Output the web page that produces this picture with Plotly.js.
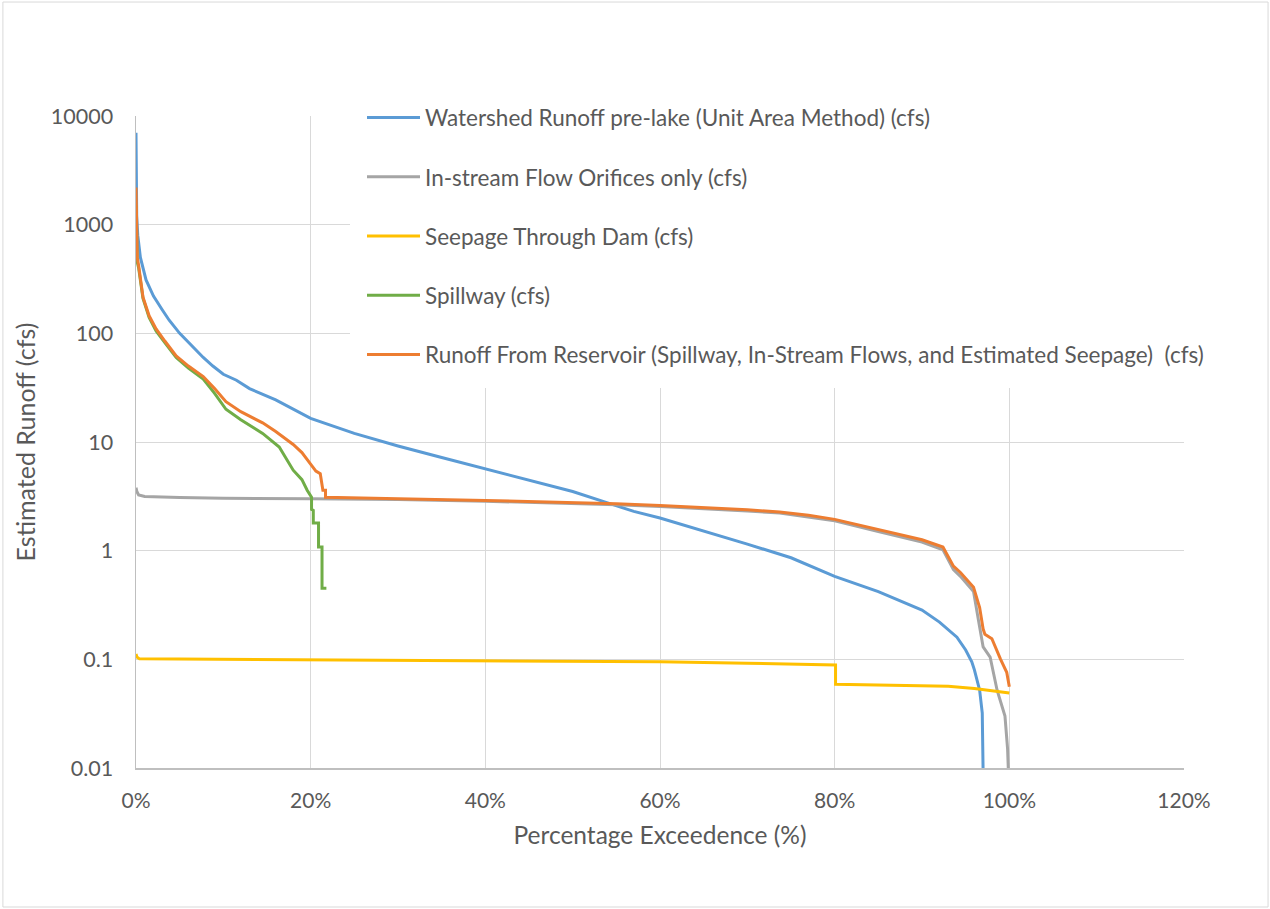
<!DOCTYPE html>
<html>
<head>
<meta charset="utf-8">
<script src="https://cdn.plot.ly/plotly-3.0.1.min.js"></script>
<style>
  html, body { margin: 0; padding: 0; background: #ffffff; }
  #chart { width: 1270px; height: 909px; }
</style>
</head>
<body>
<div id="chart"></div>
<script>
// Flow-duration curves: percentage of time a flow is exceeded (%) vs. flow (cfs)

const seriesNames = [
  'Watershed Runoff pre-lake (Unit Area Method) (cfs)',
  'In-stream Flow Orifices only (cfs)',
  'Seepage Through Dam (cfs)',
  'Spillway (cfs)',
  'Runoff From Reservoir (Spillway, In-Stream Flows, and Estimated Seepage)  (cfs)'
];
const seriesColors = ['#5b9bd5', '#a5a5a5', '#ffc000', '#70ad47', '#ed7d31'];

// Watershed runoff before the lake
const watershedPct = [0, 0.03, 0.08, 0.2, 0.5, 1.15, 2, 3, 3.8, 5, 6.5, 7.7, 8.8, 10, 11.5, 13, 16, 20, 25, 30, 35, 41.7, 45, 50, 54, 57, 60, 63, 66, 70, 75, 80, 85, 88, 90, 92, 93, 94, 95, 95.7, 96, 96.6, 96.9, 97.0];
const watershedCfs = [7000, 3000, 1200, 800, 500, 310, 220, 165, 132, 100, 75, 60, 50, 42, 37, 31, 24.4, 16.5, 12, 9.2, 7.2, 5.2, 4.4, 3.5, 2.75, 2.3, 2.0, 1.7, 1.45, 1.15, 0.86, 0.58, 0.42, 0.33, 0.284, 0.22, 0.186, 0.16, 0.122, 0.095, 0.08, 0.052, 0.032, 0.009];

// In-stream flow orifices
const orificePct = [0, 0.1, 0.3, 1, 5, 10, 20, 30, 40, 50, 55, 60, 65, 70, 73.7, 77, 80, 85, 88, 90, 92.4, 93.6, 94.4, 95.9, 96.5, 97, 97.8, 98.6, 99.5, 99.8, 99.9];
const orificeCfs = [3.8, 3.5, 3.25, 3.15, 3.08, 3.03, 3.0, 2.95, 2.85, 2.72, 2.65, 2.55, 2.45, 2.32, 2.22, 2.05, 1.88, 1.5, 1.32, 1.2, 1.02, 0.67, 0.58, 0.42, 0.22, 0.13, 0.105, 0.052, 0.03, 0.015, 0.009];

// Seepage through the dam
const seepagePct = [0, 0.1, 0.4, 10, 20, 40, 60, 70, 80.1, 80.1, 90, 93, 96, 100];
const seepageCfs = [0.112, 0.105, 0.101, 0.1, 0.099, 0.0975, 0.095, 0.092, 0.0887, 0.059, 0.057, 0.0565, 0.054, 0.049];

// Spillway
const spillwayPct = [0, 0.05, 0.15, 0.3, 0.8, 1.5, 2.3, 3.3, 4.6, 6, 7.7, 9, 10.3, 12, 14.5, 16.4, 18, 19, 19.6, 20.1, 20.1, 20.3, 20.3, 20.9, 20.9, 21.3, 21.3, 21.8];
const spillwayCfs = [1500, 700, 450, 400, 210, 140, 105, 82, 60, 48, 38, 28, 20, 16, 12, 9, 5.5, 4.5, 3.6, 3.1, 2.4, 2.35, 1.8, 1.8, 1.08, 1.08, 0.45, 0.45];

// Total runoff from the reservoir
const reservoirPct = [0, 0.05, 0.15, 0.3, 0.8, 1.5, 2.3, 3.3, 4.6, 6, 7.7, 9, 10.3, 12, 14.5, 16, 17.3, 18, 19, 19.5, 20.1, 20.6, 21.1, 21.4, 21.7, 21.7, 25, 30, 40, 50, 55, 60, 65, 70, 73.7, 77, 80, 85, 88, 90, 92.4, 93.6, 94.4, 95.9, 96.6, 97, 97.2, 98, 99, 99.7, 100];
const reservoirCfs = [2200, 900, 500, 420, 215, 145, 110, 85, 62, 50, 40, 31, 23.5, 19, 15, 12.5, 10.5, 9.5, 8, 7, 6.1, 5.4, 5.1, 3.6, 3.6, 3.1, 3.05, 3.0, 2.9, 2.78, 2.7, 2.6, 2.5, 2.38, 2.27, 2.12, 1.94, 1.57, 1.38, 1.26, 1.08, 0.72, 0.63, 0.46, 0.3, 0.19, 0.17, 0.155, 0.1, 0.076, 0.056];

const xTickVals = [0, 20, 40, 60, 80, 100, 120];
const xTickText = ['0%', '20%', '40%', '60%', '80%', '100%', '120%'];
const yTickVals = [0.01, 0.1, 1, 10, 100, 1000, 10000];
const yTickText = ['0.01', '0.1', '1', '10', '100', '1000', '10000'];

const seriesX = [watershedPct, orificePct, seepagePct, spillwayPct, reservoirPct];
const seriesY = [watershedCfs, orificeCfs, seepageCfs, spillwayCfs, reservoirCfs];

const traces = seriesNames.map((name, i) => ({
  type: 'scatter',
  mode: 'lines',
  name: name,
  legendgroup: 'g' + i,
  x: seriesX[i],
  y: seriesY[i],
  line: { color: seriesColors[i], width: 3 },
  hoverinfo: 'x+y+name'
}));

const FONT = 'Lato, "Open Sans", "Liberation Sans", sans-serif';
const TXT = '#595959';

const layout = {
  width: 1270,
  height: 909,
  margin: { l: 136, r: 86, t: 116, b: 141 },
  paper_bgcolor: '#ffffff',
  plot_bgcolor: '#ffffff',
  font: { family: FONT, color: TXT, size: 20 },
  showlegend: true,
  legend: {
    x: 0.2042, y: 1.0484, xanchor: 'left', yanchor: 'top',
    bgcolor: '#ffffff',
    bordercolor: '#ffffff',
    borderwidth: 12,
    traceorder: 'grouped',
    tracegroupgap: 27,
    itemwidth: 53,
    font: { family: FONT, size: 22.5, color: TXT }
  },
  xaxis: {
    range: [0, 120],
    tickvals: xTickVals,
    ticktext: xTickText,
    showgrid: true,
    gridcolor: '#d9d9d9',
    gridwidth: 1,
    zeroline: false,
    showline: true,
    linecolor: '#bfbfbf',
    linewidth: 2,
    ticks: '',
    ticklabelstandoff: 13,
    tickfont: { size: 21, color: TXT },
    title: { text: 'Percentage Exceedence (%)', font: { size: 24.5, color: TXT }, standoff: 16 }
  },
  yaxis: {
    type: 'log',
    range: [-2, 4],
    tickvals: yTickVals,
    ticktext: yTickText,
    showgrid: true,
    gridcolor: '#d9d9d9',
    gridwidth: 1,
    zeroline: false,
    showline: true,
    linecolor: '#bfbfbf',
    linewidth: 1.5,
    ticks: '',
    ticklabelstandoff: 17,
    tickfont: { size: 21.5, color: TXT },
    title: { text: 'Estimated Runoff (cfs)', font: { size: 25, color: TXT }, standoff: 8 }
  },
  shapes: [{
    type: 'rect', xref: 'paper', yref: 'paper',
    x0: -0.127, x1: 1.0802, y0: -0.2132, y1: 1.1748,
    line: { color: '#d9d9d9', width: 1 },
    fillcolor: 'rgba(0,0,0,0)',
    layer: 'below'
  }]
};

Plotly.newPlot('chart', traces, layout, { displayModeBar: false, staticPlot: true });
</script>
</body>
</html>
